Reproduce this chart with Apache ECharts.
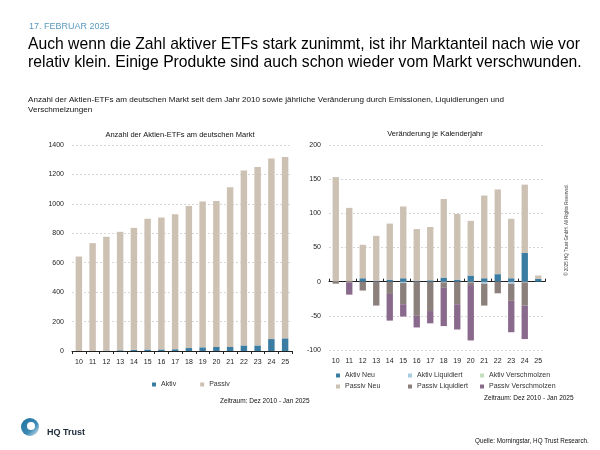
<!DOCTYPE html>
<html><head><meta charset="utf-8">
<script src="https://cdn.jsdelivr.net/npm/echarts@6/dist/echarts.min.js"></script>
<style>html,body{margin:0;padding:0;background:#fff}#c{width:600px;height:450px}</style>
</head><body><div id="c"></div>
<script>
var years = ['10','11','12','13','14','15','16','17','18','19','20','21','22','23','24','25'];
// Left chart: number of equity ETFs
var anzahlAktiv  = [0, 0, 3, 5, 8, 10, 11, 12, 20, 25, 27, 27, 38, 38, 81, 86];
var anzahlPassiv = [642, 733, 773, 805, 829, 888, 896, 918, 966, 991, 993, 1086, 1188, 1213, 1227, 1233];
// Right chart: yearly change
var aktivNeu           = [0, 0, 5, 1, 3, 5, 1, 2, 6, 3, 9, 5, 11, 5, 42, 4];
var aktivLiquidiert    = [0, 0, 0, 0, 0, -2, 0, 0, -1, 0, -1, -3, 0, -3, -1, 0];
var aktivVerschmolzen  = [0, 0, 0, 0, 0, 0, 0, 0, 0, 0, 0, 0, 0, 0, 0, 0];
var passivNeu          = [153, 108, 49, 66, 82, 105, 76, 78, 115, 96, 80, 121, 124, 87, 100, 5];
var passivLiquidiert   = [-3, -1, -13, -35, -18, -31, -50, -43, -8, -33, -4, -32, -17, -25, -34, 0];
var passivVerschmolzen = [0, -18, 0, 0, -39, -18, -17, -18, -56, -37, -81, 0, 0, -46, -49, 0];

var C = {aktiv:'#3b7ca3', passiv:'#cdc1b3', aLiq:'#a8cde0', aVer:'#c4dfbd', pLiq:'#8b807c', pVer:'#8a6a8c'};
var FONT = 'Liberation Sans, Arial, sans-serif';
var axisLab = {fontSize:7, color:'#222', fontFamily:FONT, formatter:function(v){return String(v);}};
var gridLine = {show:true, lineStyle:{color:'#bbb', type:[2,2], width:0.6}};

var chart = echarts.init(document.getElementById('c'), null, {renderer:'canvas'});
function bar(name, data, color, xi, yi, stack){
  return {name:name, type:'bar', data:data, stack:stack, xAxisIndex:xi, yAxisIndex:yi,
    barWidth:'47%', itemStyle:{color:color}, emphasis:{disabled:true}};
}
var legText = {fontSize:7, color:'#333', fontFamily:FONT};
chart.setOption({
  animation:false,
  textStyle:{fontFamily:FONT},
  title:[
    {text:'17. FEBRUAR 2025', left:24, top:17, textStyle:{fontSize:9, fontWeight:'normal', color:'#5a9ac0', fontFamily:FONT}},
    {text:'Auch wenn die Zahl aktiver ETFs stark zunimmt, ist ihr Marktanteil nach wie vor\nrelativ klein. Einige Produkte sind auch schon wieder vom Markt verschwunden.', left:23, top:31,
      textStyle:{fontSize:15.7, fontWeight:'normal', color:'#000', lineHeight:18, fontFamily:FONT}},
    {text:'Anzahl der Aktien-ETFs am deutschen Markt seit dem Jahr 2010 sowie jährliche Veränderung durch Emissionen, Liquidierungen und\nVerschmelzungen', left:23, top:90,
      textStyle:{fontSize:8.1, fontWeight:'normal', color:'#111', lineHeight:10, fontFamily:FONT}},
    {text:'Anzahl der Aktien-ETFs am deutschen Markt', left:175, top:126, textAlign:'center', textStyle:{fontSize:7.5, fontWeight:'normal', color:'#111', fontFamily:FONT}},
    {text:'Veränderung je Kalenderjahr', left:430, top:125, textAlign:'center', textStyle:{fontSize:7.5, fontWeight:'normal', color:'#111', fontFamily:FONT}},
    {text:'Zeitraum: Dez 2010 - Jan 2025', left:215, top:393, textStyle:{fontSize:6.5, fontWeight:'normal', color:'#111', fontFamily:FONT}},
    {text:'Zeitraum: Dez 2010 - Jan 2025', left:479, top:390, textStyle:{fontSize:6.5, fontWeight:'normal', color:'#111', fontFamily:FONT}},
    {text:'Quelle: Morningstar, HQ Trust Research.', left:470, top:433, textStyle:{fontSize:6.3, fontWeight:'normal', color:'#111', fontFamily:FONT}},
    {text:'HQ Trust', left:42, top:423, textStyle:{fontSize:9, fontWeight:'bold', color:'#1d2a3a', fontFamily:FONT}}
  ],
  grid:[
    {left:72, top:145, width:220, height:206, containLabel:false},
    {left:329, top:145, width:216, height:205, containLabel:false}
  ],
  xAxis:[
    {type:'category', data:years, gridIndex:0, axisLine:{lineStyle:{color:'#222', width:1}}, axisTick:{show:true, length:3, lineStyle:{color:'#222'}}, axisLabel:axisLab},
    {type:'category', data:years, gridIndex:1, position:'bottom', axisLine:{show:false, onZero:false}, axisTick:{show:false}, axisLabel:axisLab},
    {type:'category', data:years, gridIndex:1, axisLine:{onZero:true, lineStyle:{color:'#222', width:1}}, axisTick:{show:true, length:3, inside:false, lineStyle:{color:'#222'}}, axisLabel:{show:false}}
  ],
  yAxis:[
    {type:'value', gridIndex:0, min:0, max:1400, interval:200, axisLine:{show:false}, axisTick:{show:false}, axisLabel:axisLab, splitLine:gridLine},
    {type:'value', gridIndex:1, min:-100, max:200, interval:50, axisLine:{show:false}, axisTick:{show:false}, axisLabel:axisLab, splitLine:gridLine}
  ],
  legend:[
    {left:147, top:376, itemWidth:4, itemHeight:4, itemGap:24, icon:'rect', textStyle:legText, data:['Aktiv','Passiv'], selectedMode:false},
    {left:331, top:367, orient:'vertical', itemWidth:4, itemHeight:4, itemGap:4, icon:'rect', textStyle:legText, data:['Aktiv Neu','Passiv Neu'], selectedMode:false},
    {left:403, top:367, orient:'vertical', itemWidth:4, itemHeight:4, itemGap:4, icon:'rect', textStyle:legText, data:['Aktiv Liquidiert','Passiv Liquidiert'], selectedMode:false},
    {left:475, top:367, orient:'vertical', itemWidth:4, itemHeight:4, itemGap:4, icon:'rect', textStyle:legText, data:['Aktiv Verschmolzen','Passiv Verschmolzen'], selectedMode:false}
  ],
  series:[
    bar('Aktiv', anzahlAktiv, C.aktiv, 0, 0, 'a'),
    bar('Passiv', anzahlPassiv, C.passiv, 0, 0, 'a'),
    bar('Aktiv Neu', aktivNeu, C.aktiv, 1, 1, 'b'),
    bar('Aktiv Liquidiert', aktivLiquidiert, C.aLiq, 1, 1, 'b'),
    bar('Aktiv Verschmolzen', aktivVerschmolzen, C.aVer, 1, 1, 'b'),
    bar('Passiv Neu', passivNeu, C.passiv, 1, 1, 'b'),
    bar('Passiv Liquidiert', passivLiquidiert, C.pLiq, 1, 1, 'b'),
    bar('Passiv Verschmolzen', passivVerschmolzen, C.pVer, 1, 1, 'b')
  ],
  graphic:[
    {type:'circle', shape:{cx:30, cy:427, r:9}, style:{fill:new echarts.graphic.LinearGradient(0,0,1,1,[{offset:0,color:'#1f6f9e'},{offset:0.6,color:'#3c8ab5'},{offset:1,color:'#e6f0f6'}])}},
    {type:'circle', shape:{cx:31, cy:426, r:4}, style:{fill:'#ffffff'}},
    {type:'text', x:567, y:230, rotation:Math.PI/2, style:{text:'© 2025 HQ Trust GmbH. All Rights Reserved.', fontSize:4.5, fill:'#444', fontFamily:FONT, align:'center', verticalAlign:'middle'}}
  ]
});
</script></body></html>
